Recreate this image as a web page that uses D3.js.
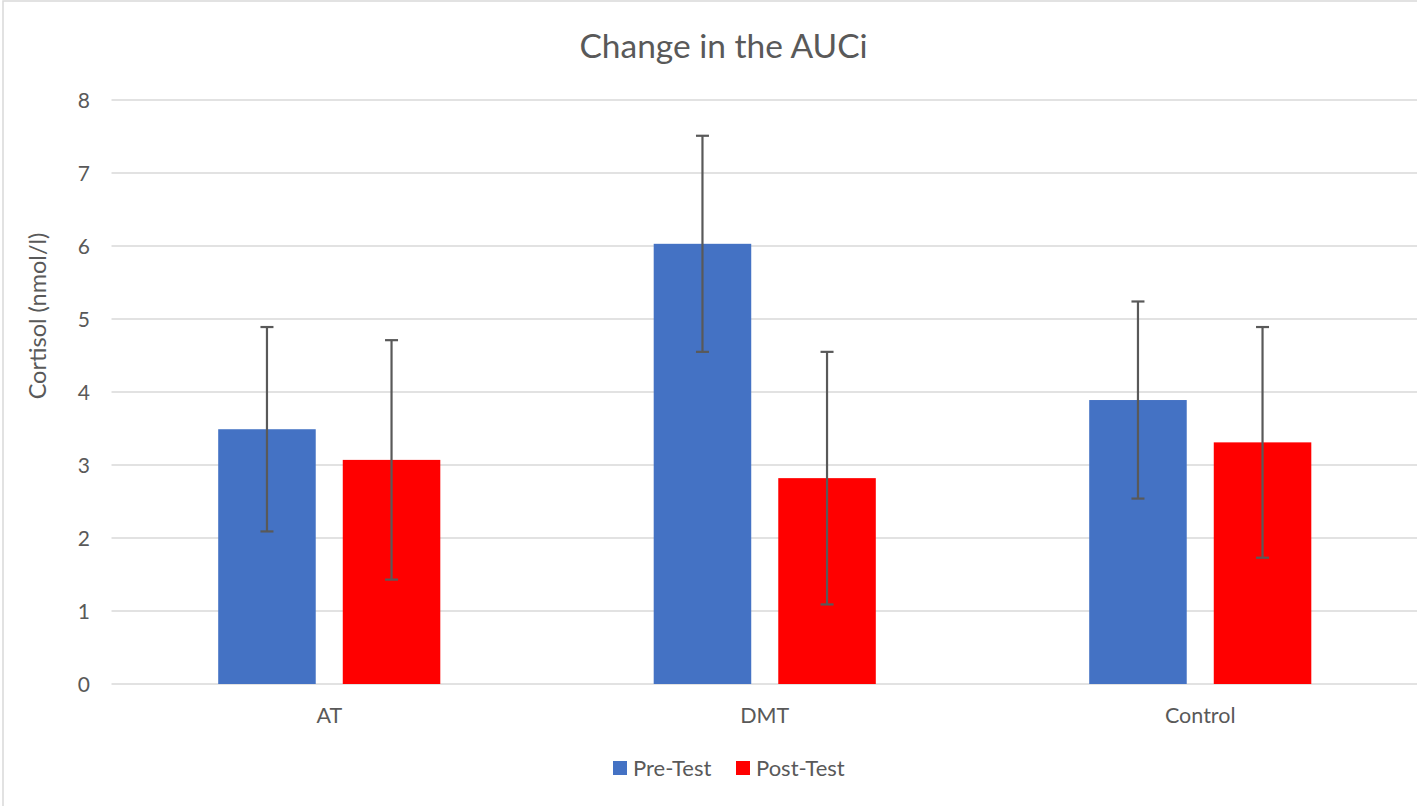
<!DOCTYPE html>
<html>
<head>
<meta charset="utf-8">
<script src="https://cdn.jsdelivr.net/npm/d3@7"></script>
<style>
    body { margin: 0; background: #fff; }
    text { font-family: Lato, "Open Sans", sans-serif; fill: #595959; }
</style>
</head>
<body>
<svg id="chart" width="1417" height="806"></svg>
<script>
const categories = ["AT", "DMT", "Control"];
const series = ["Pre-Test", "Post-Test"];
const preValues = [3.49, 6.03, 3.89];
const postValues = [3.07, 2.82, 3.31];
const preErrors = [1.40, 1.48, 1.35];
const postErrors = [1.64, 1.73, 1.58];
const yTicks = [0, 1, 2, 3, 4, 5, 6, 7, 8];
const colors = ["#4472c4", "#ff0000"];

let svg = d3.select("#chart");
const margin = { left: 111.5, right: -1, top: 100, bottom: 122 };
const width = 1417, height = 806;

// chart border
svg.append('rect')
    .attr('x', 3).attr('y', 1)
    .attr('width', width + 10).attr('height', height + 10)
    .attr('fill', 'none')
    .attr('stroke', '#d9d9d9')
    .attr('stroke-width', 1.5);

let x0 = d3.scaleBand()
    .domain(categories)
    .range([margin.left, width - margin.right]);
let bw = x0.bandwidth();
let x1 = d3.scaleBand()
    .domain(series)
    .range([bw * 0.245, bw * 0.755])
    .paddingInner(0.217);
let y = d3.scaleLinear()
    .domain([0, 8])
    .range([height - margin.bottom, margin.top]);

// gridlines
svg.append('g')
    .selectAll('line')
    .data(yTicks)
    .enter()
    .append('line')
    .attr('x1', margin.left)
    .attr('x2', width - margin.right)
    .attr('y1', d => y(d))
    .attr('y2', d => y(d))
    .attr('stroke', '#d9d9d9')
    .attr('stroke-width', 1.5);

// y tick labels
svg.append('g')
    .selectAll('text')
    .data(yTicks)
    .enter()
    .append('text')
    .attr('x', 90)
    .attr('y', d => y(d) + 7.5)
    .attr('text-anchor', 'end')
    .style('font-size', '21px')
    .text(d => d);

let rows = categories.map((c, i) => ({
    cat: c,
    vals: [
        { s: series[0], v: preValues[i], e: preErrors[i], color: colors[0] },
        { s: series[1], v: postValues[i], e: postErrors[i], color: colors[1] }
    ]
}));

let groups = svg.append('g')
    .selectAll('g')
    .data(rows)
    .enter()
    .append('g')
    .attr('transform', d => `translate(${x0(d.cat)},0)`);

groups.selectAll('rect')
    .data(d => d.vals)
    .enter()
    .append('rect')
    .attr('x', d => x1(d.s))
    .attr('y', d => y(d.v))
    .attr('width', x1.bandwidth())
    .attr('height', d => y(0) - y(d.v))
    .attr('fill', d => d.color);

// error bars
let errs = groups.selectAll('g.err')
    .data(d => d.vals)
    .enter()
    .append('g')
    .classed('err', true)
    .attr('stroke', '#595959')
    .attr('stroke-width', 2.2);
const cap = 6.5;
errs.append('line')
    .attr('x1', d => x1(d.s) + x1.bandwidth() / 2)
    .attr('x2', d => x1(d.s) + x1.bandwidth() / 2)
    .attr('y1', d => y(d.v + d.e))
    .attr('y2', d => y(d.v - d.e));
errs.selectAll('line.cap')
    .data(d => [
        { cx: x1(d.s) + x1.bandwidth() / 2, cy: y(d.v + d.e) },
        { cx: x1(d.s) + x1.bandwidth() / 2, cy: y(d.v - d.e) }
    ])
    .enter()
    .append('line')
    .classed('cap', true)
    .attr('x1', d => d.cx - cap)
    .attr('x2', d => d.cx + cap)
    .attr('y1', d => d.cy)
    .attr('y2', d => d.cy);

// x labels
svg.append('g')
    .selectAll('text')
    .data(categories)
    .enter()
    .append('text')
    .attr('x', d => x0(d) + bw / 2)
    .attr('y', 723)
    .attr('text-anchor', 'middle')
    .style('font-size', '21.5px')
    .text(d => d);

// title
svg.append('text')
    .attr('x', 723.5)
    .attr('y', 57.5)
    .attr('text-anchor', 'middle')
    .style('font-size', '33.5px')
    .text("Change in the AUCi");

// y axis title
svg.append('text')
    .attr('transform', 'translate(46,316) rotate(-90)')
    .attr('text-anchor', 'middle')
    .style('font-size', '23.5px')
    .text("Cortisol (nmol/l)");

// legend
let legendX = [613, 736];
let legend = svg.append('g')
    .selectAll('g')
    .data(series)
    .enter()
    .append('g')
    .attr('transform', (d, i) => `translate(${legendX[i]},761)`);
legend.append('rect')
    .attr('width', 14)
    .attr('height', 14)
    .attr('fill', (d, i) => colors[i]);
legend.append('text')
    .attr('x', 20)
    .attr('y', 14.5)
    .style('font-size', '22px')
    .text(d => d);
</script>
</body>
</html>
